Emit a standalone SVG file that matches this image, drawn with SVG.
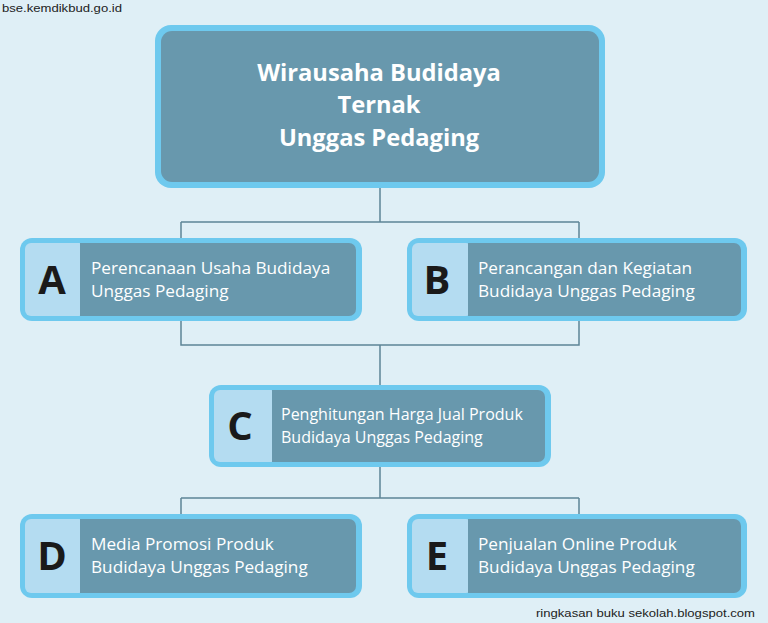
<svg xmlns="http://www.w3.org/2000/svg" width="768" height="623" viewBox="0 0 768 623">
<style>
.outer{fill:#6ec9ee;}
.panel{fill:#b4dcf1;}
.body{fill:#6898ad;}
.letter{font-family:"Open Sans","DejaVu Sans",sans-serif;font-weight:bold;font-size:40px;fill:#1a1a1a;text-anchor:middle;}
.lbl{font-family:"Open Sans","Noto Sans",sans-serif;font-size:17.2px;fill:#ffffff;}
.lbl.c{font-size:16px;}
.title{font-family:"Open Sans","Noto Sans",sans-serif;font-weight:bold;font-size:23.7px;fill:#ffffff;text-anchor:middle;}
.wm{font-family:"Liberation Sans",sans-serif;font-size:10px;fill:#222;}
.conn{fill:none;stroke:#5e8596;stroke-width:1.5;}
</style>
<rect width="768" height="623" fill="#dfeff6"/>
<text class="wm" x="2" y="12" textLength="120" lengthAdjust="spacingAndGlyphs">bse.kemdikbud.go.id</text>
<text class="wm" x="536" y="617" textLength="219" lengthAdjust="spacingAndGlyphs">ringkasan buku sekolah.blogspot.com</text>
<g id="connectors">
<path class="conn" d="M380 188 V222 M181 222 H579 M181 222 V239 M579 222 V239"/>
<path class="conn" d="M181 321 V345 H579 V321 M380 345 V386"/>
<path class="conn" d="M380 467 V498 M181 498 H579 M181 498 V515 M579 498 V515"/>
</g>
<g id="root">
<rect class="outer" x="155" y="25" width="450" height="163" rx="16"/>
<rect class="body" x="161" y="31" width="438" height="151" rx="11"/>
<text class="title" x="379" y="81">Wirausaha Budidaya</text>
<text class="title" x="379" y="113">Ternak</text>
<text class="title" x="379" y="146">Unggas Pedaging</text>
</g>
<g id="nodeA">
<rect class="outer" x="20" y="238" width="342" height="83" rx="12"/>
<rect class="panel" x="25" y="243" width="60" height="73" rx="6"/>
<rect class="body" x="80" y="243" width="276" height="73" rx="7"/>
<rect class="body" x="80" y="243" width="10" height="73"/>
<text class="letter" x="52" y="294">A</text>
<text class="lbl" x="91" y="274">Perencanaan Usaha Budidaya</text>
<text class="lbl" x="91" y="297">Unggas Pedaging</text>
</g>
<g id="nodeB">
<rect class="outer" x="407" y="238" width="340" height="83" rx="12"/>
<rect class="panel" x="412" y="243" width="60" height="73" rx="6"/>
<rect class="body" x="468" y="243" width="273" height="73" rx="7"/>
<rect class="body" x="468" y="243" width="10" height="73"/>
<text class="letter" x="437" y="294">B</text>
<text class="lbl" x="478" y="274">Perancangan dan Kegiatan</text>
<text class="lbl" x="478" y="297">Budidaya Unggas Pedaging</text>
</g>
<g id="nodeC">
<rect class="outer" x="209" y="385" width="342" height="82" rx="12"/>
<rect class="panel" x="214" y="390" width="63" height="72" rx="6"/>
<rect class="body" x="272" y="390" width="273" height="72" rx="7"/>
<rect class="body" x="272" y="390" width="10" height="72"/>
<text class="letter" x="240" y="440">C</text>
<text class="lbl c" x="281" y="420">Penghitungan Harga Jual Produk</text>
<text class="lbl c" x="281" y="443">Budidaya Unggas Pedaging</text>
</g>
<g id="nodeD">
<rect class="outer" x="20" y="514" width="342" height="84" rx="12"/>
<rect class="panel" x="25" y="519" width="60" height="74" rx="6"/>
<rect class="body" x="80" y="519" width="276" height="74" rx="7"/>
<rect class="body" x="80" y="519" width="10" height="74"/>
<text class="letter" x="52" y="570">D</text>
<text class="lbl" x="91" y="550">Media Promosi Produk</text>
<text class="lbl" x="91" y="573">Budidaya Unggas Pedaging</text>
</g>
<g id="nodeE">
<rect class="outer" x="407" y="514" width="340" height="84" rx="12"/>
<rect class="panel" x="412" y="519" width="60" height="74" rx="6"/>
<rect class="body" x="468" y="519" width="273" height="74" rx="7"/>
<rect class="body" x="468" y="519" width="10" height="74"/>
<text class="letter" x="437" y="570">E</text>
<text class="lbl" x="478" y="550">Penjualan Online Produk</text>
<text class="lbl" x="478" y="573">Budidaya Unggas Pedaging</text>
</g>
</svg>
